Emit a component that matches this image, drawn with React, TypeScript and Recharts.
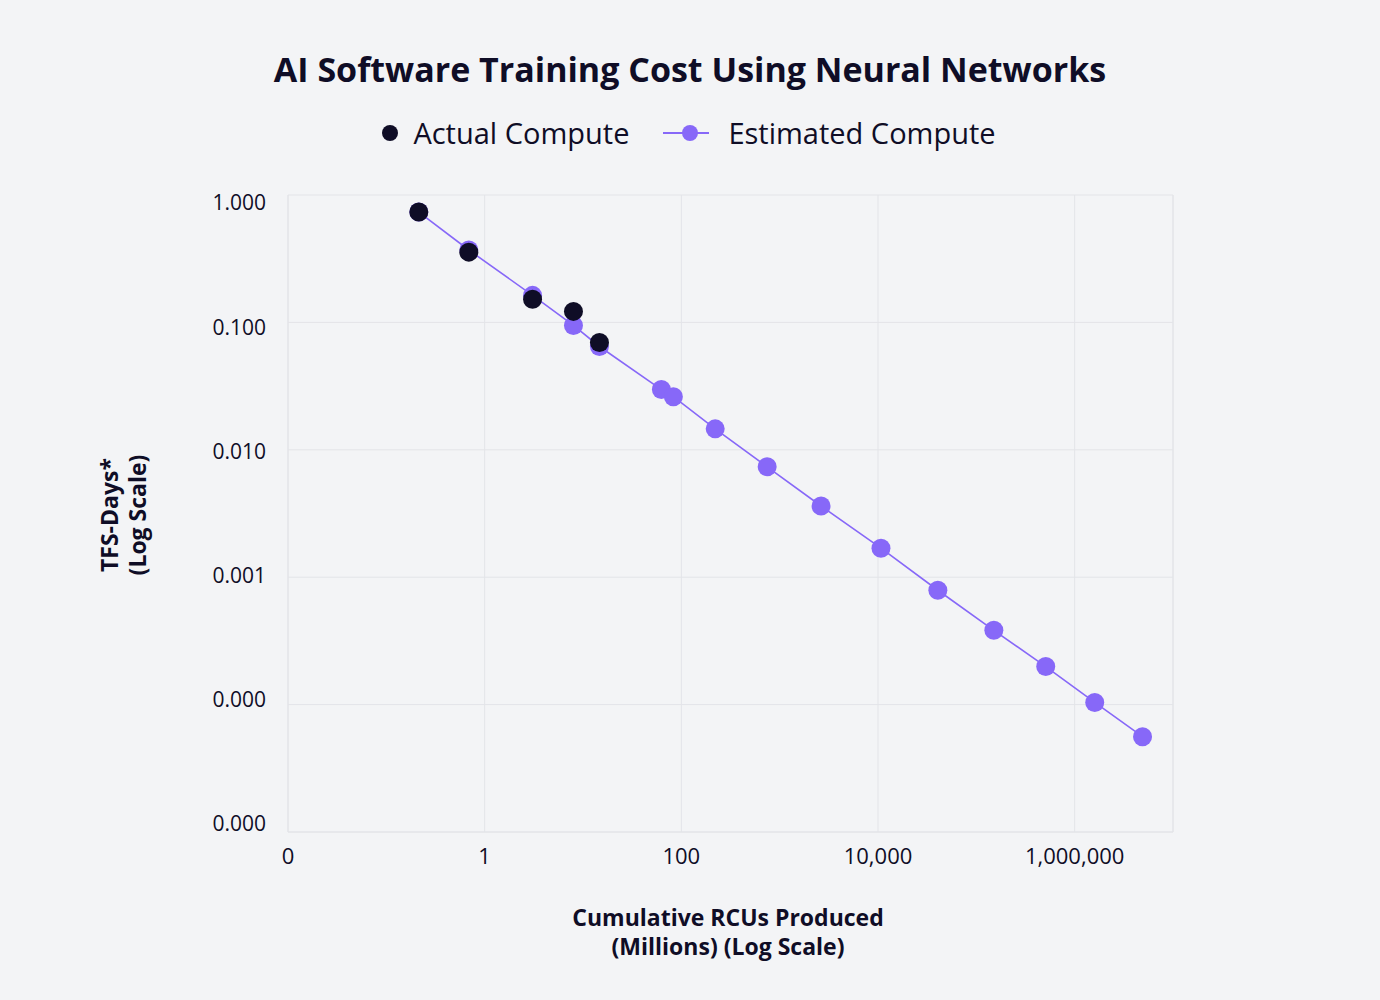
import React from "react";
import {
  ScatterChart,
  Scatter,
  XAxis,
  YAxis,
  CartesianGrid,
  ReferenceLine,
} from "recharts";

// values (log-log)
const actualRcus = [0.214, 0.69, 3.07, 8.0, 14.7];
const actualTfs = [0.735, 0.356, 0.152, 0.122, 0.0696];

const estimatedRcus = [
  0.214, 0.69, 3.07, 8.0, 14.7, 62.7, 83, 221, 746, 2636, 10720, 40600, 150700,
  508000, 1600000, 4900000,
];
const estimatedTfs = [
  0.735, 0.37, 0.163, 0.0947, 0.0647, 0.0297, 0.0261, 0.0146, 0.00735, 0.00362,
  0.00169, 0.00079, 0.000383, 0.000199, 0.000104, 0.000056,
];

const xTicks = [0.01, 1, 100, 10000, 1000000];
const yTicks = [0.00001, 0.0001, 0.001, 0.01, 0.1, 1];

const actualData = actualRcus.map((x, i) => ({ x, y: actualTfs[i] }));
const estimatedData = estimatedRcus.map((x, i) => ({ x, y: estimatedTfs[i] }));

const DARK = "#0f0d26";
const PURPLE = "#8768f8";
const BG = "#f3f4f6";
const GRID = "#e3e4e8";
const FONT = "'Open Sans', 'Noto Sans', sans-serif";

const fmtX = (v: number) => Math.round(v).toLocaleString("en-US");
const fmtY = (v: number) => v.toFixed(3);

const dot = (color: string) => (props: any) =>
  <circle cx={props.cx} cy={props.cy} r={9.5} fill={color} />;

// y labels in the original sit slightly squeezed toward the middle
function YTick(props: any) {
  const { x, y, payload, index } = props;
  const shift = -8.5 + 3.3 * index;
  return (
    <text
      x={x}
      y={y + shift}
      dy="0.355em"
      textAnchor="end"
      fill={DARK}
      fontSize={21}
      fontFamily={FONT}
    >
      {fmtY(payload.value)}
    </text>
  );
}

export default function App() {
  return (
    <div
      style={{
        position: "absolute",
        left: 0,
        top: 0,
        width: 1380,
        height: 1000,
        background: BG,
        fontFamily: FONT,
        color: DARK,
      }}
    >
      <div
        style={{
          position: "absolute",
          top: 46,
          width: 1380,
          textAlign: "center",
          fontSize: 34,
          fontWeight: 700,
          lineHeight: "46px",
        }}
      >
        AI Software Training Cost Using Neural Networks
      </div>

      {/* legend */}
      <div
        style={{
          position: "absolute",
          top: 114,
          left: -2,
          width: 1380,
          display: "flex",
          justifyContent: "center",
          alignItems: "center",
          fontSize: 29,
          lineHeight: "38px",
        }}
      >
        <svg width={24} height={20} style={{ marginRight: 9 }}>
          <circle cx={10} cy={10} r={8} fill={DARK} />
        </svg>
        <span style={{ marginRight: 34 }}>Actual Compute</span>
        <svg width={48} height={20} style={{ marginRight: 17 }}>
          <line x1={0} y1={10} x2={46} y2={10} stroke={PURPLE} strokeWidth={2} />
          <circle cx={27} cy={10} r={8} fill={PURPLE} />
        </svg>
        <span>Estimated Compute</span>
      </div>

      <ScatterChart
        width={1380}
        height={1000}
        margin={{ top: 195, right: 207, bottom: 0, left: 0 }}
        style={{ position: "absolute", left: 0, top: 0 }}
      >
        <CartesianGrid stroke={GRID} strokeWidth={1} />
        <XAxis
          type="number"
          dataKey="x"
          scale="log"
          domain={[0.01, 10000000]}
          ticks={xTicks}
          tickFormatter={fmtX}
          allowDataOverflow
          height={168}
          stroke={GRID}
          tickLine={false}
          tickSize={0}
          tickMargin={16}
          tick={{ fill: DARK, fontSize: 22, fontFamily: FONT }}
        />
        <YAxis
          type="number"
          dataKey="y"
          scale="log"
          domain={[0.00001, 1]}
          ticks={yTicks}
          allowDataOverflow
          width={288}
          stroke={GRID}
          tickLine={false}
          tickSize={0}
          tickMargin={22}
          tick={<YTick />}
        />
        <ReferenceLine x={10000000} stroke={GRID} />
        <Scatter
          data={estimatedData}
          fill={PURPLE}
          line={{ stroke: PURPLE, strokeWidth: 1.6 }}
          shape={dot(PURPLE)}
          isAnimationActive={false}
        />
        <Scatter
          data={actualData}
          fill={DARK}
          shape={dot(DARK)}
          isAnimationActive={false}
        />
      </ScatterChart>

      {/* axis titles */}
      <div
        style={{
          position: "absolute",
          left: 478,
          top: 903,
          width: 500,
          textAlign: "center",
          fontSize: 23,
          fontWeight: 700,
          lineHeight: "29px",
        }}
      >
        Cumulative RCUs Produced
        <br />
        (Millions) (Log Scale)
      </div>
      <div
        style={{
          position: "absolute",
          left: 123,
          top: 515,
          width: 200,
          marginLeft: -100,
          marginTop: -28,
          transform: "rotate(-90deg)",
          textAlign: "center",
          fontSize: 23,
          fontWeight: 700,
          lineHeight: "28px",
        }}
      >
        TFS-Days*
        <br />
        (Log Scale)
      </div>
    </div>
  );
}
